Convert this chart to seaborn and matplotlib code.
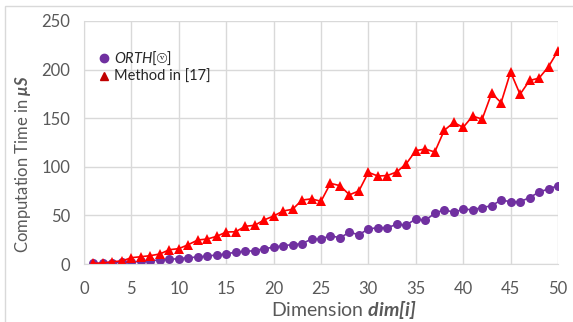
import numpy as np
import pandas as pd
import seaborn as sns
import matplotlib.pyplot as plt
from matplotlib.lines import Line2D
from matplotlib.patches import Rectangle

dims = list(range(1, 51))

orth_time = [0.7, 0.7, 1.0, 1.7, 2.0, 2.7, 3.4, 4.1, 4.8, 5.5,
             6.5, 7.2, 8.2, 9.3, 10.3, 12.3, 13.0, 13.7, 15.8, 17.2,
             18.9, 19.9, 20.9, 25.7, 25.7, 29.1, 27.0, 32.6, 30.2, 36.0,
             37.4, 37.4, 40.8, 40.1, 46.3, 45.0, 52.1, 55.9, 53.2, 56.3,
             55.9, 58.0, 60.0, 65.8, 64.1, 64.1, 68.3, 74.0, 77.2, 80.6]

method17_time = [0.7, 1.0, 2.4, 3.1, 6.5, 7.5, 8.6, 10.3, 14.7, 15.8,
                 19.9, 24.7, 25.7, 28.5, 32.9, 33.2, 38.8, 39.8, 45.3, 49.4,
                 54.5, 56.3, 65.8, 67.0, 64.5, 83.0, 80.6, 71.2, 75.2, 94.3,
                 90.5, 91.0, 94.8, 103.2, 116.6, 118.3, 115.2, 137.5, 145.6, 140.6,
                 152.2, 149.0, 175.6, 166.0, 197.5, 174.6, 188.8, 191.2, 203.0, 219.3]

series_names = ['ORTH', 'Method in [17]']

df = pd.concat([
    pd.DataFrame({'dim': dims, 'time': orth_time, 'method': series_names[0]}),
    pd.DataFrame({'dim': dims, 'time': method17_time, 'method': series_names[1]}),
])

sns.set_style('white')
plt.rcParams['font.family'] = ['Lato', 'DejaVu Sans']
plt.rcParams['mathtext.fontset'] = 'custom'
plt.rcParams['mathtext.rm'] = 'Lato'
plt.rcParams['mathtext.it'] = 'Lato:italic'
plt.rcParams['mathtext.bf'] = 'Lato:bold:italic'
plt.rcParams['mathtext.sf'] = 'DejaVu Sans'

gray = '#595959'
fig = plt.figure(figsize=(5.73, 3.22), dpi=100)
ax = fig.add_axes([0.1466, 0.1801, 0.8272, 0.7547])

# light chart border
fig.patches.append(Rectangle((5 / 573, -0.1), 1.2, (322 - 6) / 322 + 0.1,
                             transform=fig.transFigure, fill=False,
                             edgecolor='#d9d9d9', linewidth=1))

sns.lineplot(data=df, x='dim', y='time', hue='method', style='method',
             palette=['#7030A0', '#FF0000'], markers=['o', '^'], dashes=False,
             markersize=6.5, markeredgewidth=0, linewidth=1.2, legend=False, ax=ax)

ax.set_xlim(0, 50)
ax.set_ylim(0, 250)
ax.set_xticks(range(0, 51, 5))
ax.set_xticks(range(0, 51), minor=True)
ax.set_yticks(range(0, 251, 50))
ax.set_yticks(range(0, 251, 10), minor=True)
ax.grid(True, which='major', color='#d9d9d9', linewidth=1)
ax.set_axisbelow(True)
for s in ['top', 'right']:
    ax.spines[s].set_visible(False)
for s in ['left', 'bottom']:
    ax.spines[s].set_color('#d9d9d9')
ax.tick_params(which='both', direction='out', color='#d9d9d9', labelcolor=gray,
               labelsize=12, length=4)
ax.tick_params(axis='x', pad=8)
ax.tick_params(axis='y', pad=6)

ax.set_xlabel('Dimension $\\mathbf{dim[i]}$', color=gray, fontsize=14, labelpad=2)
ax.set_ylabel('Computation Time in $\\mathbf{μS}$', color=gray, fontsize=12, labelpad=6)
ax.xaxis.label.set_x(0.549)
ax.yaxis.label.set_y(0.41)

handles = [Line2D([], [], marker='o', color='#7030A0', ls='none', markersize=6),
           Line2D([], [], marker='^', color='#C00000', ls='none', markersize=6)]
labels = ['$\\mathit{ORTH}\\mathrm{[}\\mathsf{ⓥ}\\mathrm{]}$', 'Method in [17]']
ax.legend(handles, labels, loc='upper left', bbox_to_anchor=(0.02, 0.905),
          frameon=False, fontsize=10.5, handlelength=0.6, handletextpad=0.4,
          labelspacing=0.2, borderaxespad=0)

plt.savefig('out.png', dpi=100)
